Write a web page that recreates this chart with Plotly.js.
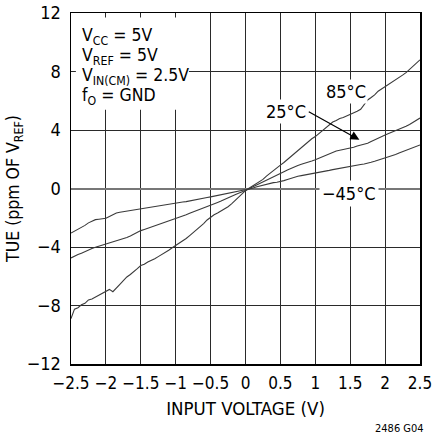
<!DOCTYPE html>
<html>
<head>
<meta charset="utf-8">
<script src="https://cdn.plot.ly/plotly-3.0.1.min.js"></script>
<style>html,body{margin:0;padding:0;background:#fff;}#chart{width:433px;height:436px;}</style>
</head>
<body>
<div id="chart"></div>
<script>
const inputVoltage = [
-2.50,-2.45,-2.40,-2.35,-2.30,-2.25,-2.20,-2.15,-2.10,-2.05,
-2.00,-1.95,-1.90,-1.85,-1.80,-1.75,-1.70,-1.65,-1.60,-1.55,
-1.50,-1.45,-1.40,-1.35,-1.30,-1.25,-1.20,-1.15,-1.10,-1.05,
-1.00,-0.95,-0.90,-0.85,-0.80,-0.75,-0.70,-0.65,-0.60,-0.55,
-0.50,-0.45,-0.40,-0.35,-0.30,-0.25,-0.20,-0.15,-0.10,-0.05,
0.00,0.05,0.10,0.15,0.20,0.25,0.30,0.35,0.40,0.45,
0.50,0.55,0.60,0.65,0.70,0.75,0.80,0.85,0.90,0.95,
1.00,1.05,1.10,1.15,1.20,1.25,1.30,1.35,1.40,1.45,
1.50,1.55,1.60,1.65,1.70,1.75,1.80,1.85,1.90,1.95,
2.00,2.05,2.10,2.15,2.20,2.25,2.30,2.35,2.40,2.45,2.50];

const tue85C = [
-8.90,-8.25,-8.15,-7.95,-7.85,-7.62,-7.55,-7.42,-7.30,-7.18,
-7.05,-6.90,-7.06,-6.78,-6.55,-6.30,-6.05,-5.88,-5.70,-5.48,
-5.27,-5.18,-5.02,-4.92,-4.80,-4.66,-4.52,-4.40,-4.22,-4.05,
-3.90,-3.74,-3.58,-3.42,-3.22,-3.03,-2.82,-2.60,-2.40,-2.15,
-1.95,-1.80,-1.68,-1.55,-1.42,-1.25,-1.05,-0.82,-0.60,-0.38,
-0.15,0.02,0.18,0.32,0.48,0.62,0.85,1.05,1.22,1.42,
1.60,1.78,1.98,2.18,2.40,2.62,2.80,3.02,3.18,3.40,
3.55,3.75,3.95,4.18,4.38,4.55,4.65,4.78,4.85,4.95,
5.05,5.15,5.28,5.42,5.70,6.05,6.22,6.40,6.65,6.80,
6.95,7.10,7.28,7.40,7.58,7.75,7.92,8.15,8.35,8.55,8.80];

const tue25C = [
-4.75,-4.62,-4.52,-4.42,-4.30,-4.18,-4.10,-4.02,-3.95,-3.88,
-3.80,-3.72,-3.65,-3.55,-3.50,-3.42,-3.35,-3.25,-3.12,-3.00,
-2.88,-2.80,-2.72,-2.62,-2.55,-2.46,-2.38,-2.30,-2.22,-2.14,
-2.06,-1.98,-1.90,-1.80,-1.70,-1.60,-1.50,-1.42,-1.32,-1.24,
-1.14,-1.05,-0.95,-0.86,-0.74,-0.62,-0.52,-0.42,-0.32,-0.24,
-0.16,-0.04,0.10,0.22,0.36,0.48,0.60,0.72,0.84,0.95,
1.04,1.15,1.26,1.38,1.48,1.58,1.66,1.72,1.80,1.88,
1.96,2.06,2.18,2.30,2.40,2.50,2.56,2.62,2.66,2.70,
2.75,2.82,2.90,2.96,3.02,3.10,3.22,3.34,3.45,3.56,
3.66,3.76,3.85,3.94,4.02,4.12,4.25,4.38,4.52,4.66,4.82];

const tueMinus45C = [
-3.05,-2.92,-2.82,-2.70,-2.52,-2.35,-2.22,-2.13,-2.10,-2.08,
-2.04,-1.92,-1.80,-1.68,-1.62,-1.58,-1.55,-1.52,-1.47,-1.42,
-1.38,-1.34,-1.30,-1.25,-1.20,-1.16,-1.12,-1.09,-1.05,-1.02,
-0.98,-0.95,-0.92,-0.90,-0.86,-0.83,-0.78,-0.72,-0.66,-0.62,
-0.57,-0.52,-0.47,-0.42,-0.37,-0.32,-0.26,-0.22,-0.17,-0.14,
-0.11,-0.05,0.02,0.10,0.17,0.24,0.30,0.35,0.40,0.43,
0.47,0.54,0.62,0.71,0.79,0.84,0.88,0.92,0.96,0.99,
1.03,1.08,1.13,1.19,1.24,1.29,1.34,1.39,1.44,1.49,
1.53,1.57,1.61,1.64,1.68,1.72,1.79,1.86,1.93,2.00,
2.07,2.14,2.22,2.32,2.42,2.52,2.62,2.71,2.80,2.89,2.98];

const xTickVals = [-2.5,-2,-1.5,-1,-0.5,0,0.5,1,1.5,2,2.5];
const xTickText = ['\u22122.5','\u22122','\u22121.5','\u22121','\u22120.5','0','0.5','1','1.5','2','2.5'];
const yTickVals = [-12,-8,-4,0,4,8,12];
const yTickText = ['\u221212','\u22128','\u22124','0','4','8','12'];

const conditionLines = ['V<sub>CC</sub> = 5V','V<sub>REF</sub> = 5V','V<sub>IN(CM)</sub> = 2.5V','f<sub>O</sub> = GND'];

const FONT = 'Liberation Sans Narrow, Arial Narrow, DejaVu Sans Condensed, sans-serif';
const lineStyle = {color:'#3a3a3a', width:1.1};

const traces = [
  {x: inputVoltage, y: tue85C, name:'85°C', mode:'lines', line: lineStyle},
  {x: inputVoltage, y: tue25C, name:'25°C', mode:'lines', line: lineStyle},
  {x: inputVoltage, y: tueMinus45C, name:'−45°C', mode:'lines', line: lineStyle}
];

const annotations = [];
const condY = [0.932, 0.875, 0.818, 0.761];
conditionLines.forEach((t,i)=>{
  annotations.push({xref:'paper', yref:'paper', x:0.027, y:condY[i], xanchor:'left', yanchor:'middle',
    text:t, showarrow:false, font:{family:FONT, size:17.5, color:'#000'}});
});
annotations.push({xref:'x', yref:'y', x:1.438, y:6.63, text:'85°C', showarrow:false, bgcolor:'#fff', borderpad:1,
  font:{family:FONT, size:18, color:'#000'}});
annotations.push({xref:'x', yref:'y', x:0.574, y:5.26, text:'25°C', showarrow:false, bgcolor:'#fff', borderpad:1,
  font:{family:FONT, size:18, color:'#000'}});
annotations.push({xref:'x', yref:'y', x:1.487, y:-0.36, text:'\u221245°C', showarrow:false, bgcolor:'#fff', borderpad:2,
  font:{family:FONT, size:18, color:'#000'}});
annotations.push({xref:'x', yref:'y', x:1.632, y:3.33, ax:0.885, ay:5.31, axref:'x', ayref:'y', text:'',
  showarrow:true, arrowhead:2, arrowsize:1.5, arrowwidth:1.2, arrowcolor:'#000', standoff:0, startstandoff:0});
annotations.push({xref:'paper', yref:'paper', x:0.94, y:-0.185, xanchor:'center', yanchor:'middle',
  text:'2486 G04', showarrow:false, font:{family:FONT, size:11, color:'#000'}});

const layout = {
  width:433, height:436,
  margin:{l:71, r:13, t:13, b:72, pad:0},
  paper_bgcolor:'#fff', plot_bgcolor:'#fff',
  showlegend:false,
  font:{family:FONT, color:'#000', size:18},
  xaxis:{range:[-2.5,2.5], tickvals:xTickVals, ticktext:xTickText, showline:true, mirror:true,
    linecolor:'#000', linewidth:1.5, showgrid:true, gridcolor:'#2a2a2a', gridwidth:1, zeroline:false,
    ticks:'', ticklabelstandoff:3, ticklabeloverflow:'allow', tickfont:{family:FONT, size:17, color:'#000'},
    title:{text:'INPUT VOLTAGE (V)', font:{family:FONT, size:18.5, color:'#000'}, standoff:10}},
  yaxis:{range:[-12,12], tickvals:yTickVals, ticktext:yTickText, showline:true, mirror:true,
    linecolor:'#000', linewidth:1.5, showgrid:true, gridcolor:'#2a2a2a', gridwidth:1,
    zeroline:true, zerolinecolor:'#777', zerolinewidth:2,
    ticks:'', ticklabelstandoff:5, tickfont:{family:FONT, size:18, color:'#000'},
    title:{text:'TUE (ppm OF V<sub>REF</sub>)', font:{family:FONT, size:17.5, color:'#000'}, standoff:2}},
  shapes:[{type:'rect', xref:'paper', yref:'paper', x0:0.014, x1:0.338, y0:0.7247, y1:0.987,
    fillcolor:'#fff', line:{width:0}, layer:'above'}],
  annotations: annotations
};

Plotly.newPlot('chart', traces, layout, {displayModeBar:false, staticPlot:true});
</script>
</body>
</html>
